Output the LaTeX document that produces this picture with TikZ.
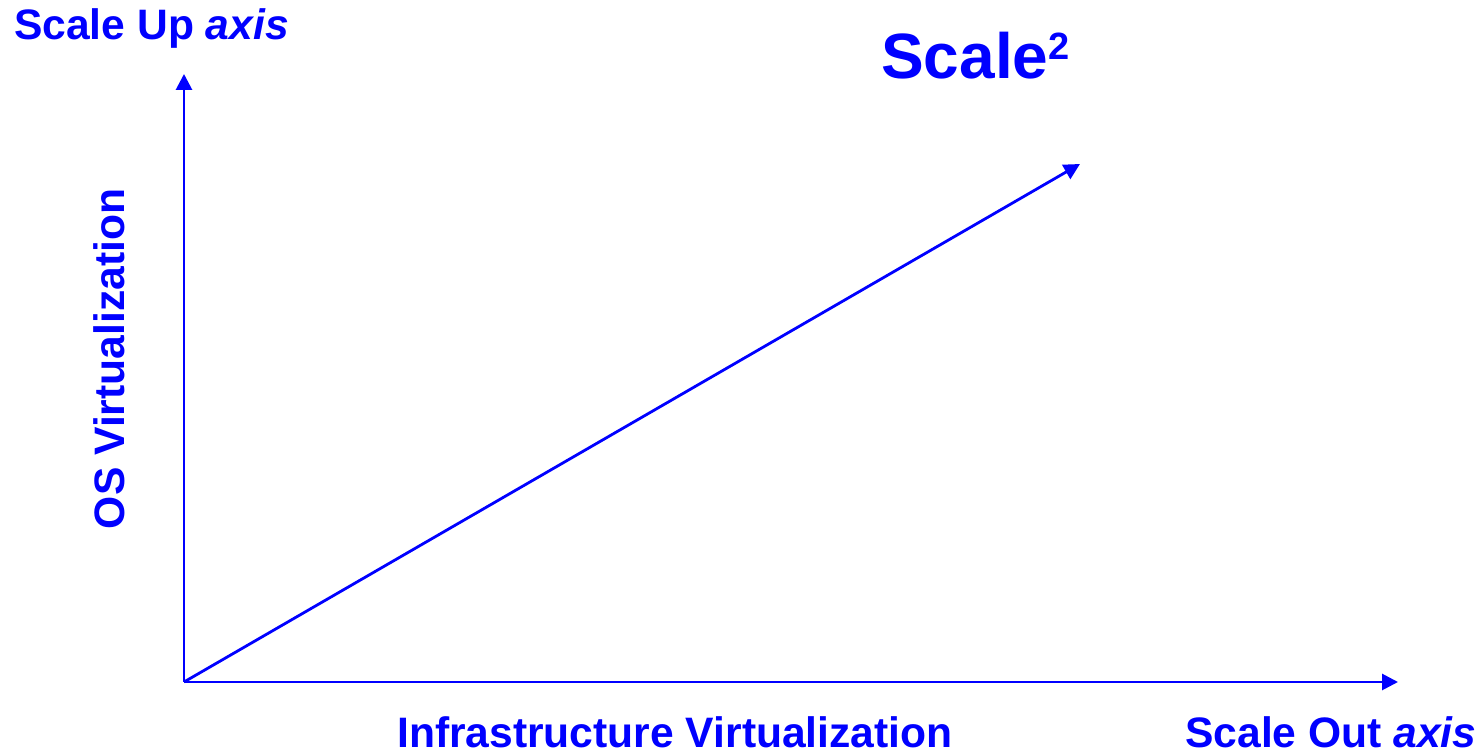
\documentclass[tikz,border=0pt]{standalone}
\usepackage{fontspec}
\setmainfont{Liberation Sans}
\usetikzlibrary{arrows.meta}
\definecolor{axblue}{RGB}{0,0,255}
\begin{document}
\begin{tikzpicture}[x=1pt,y=1pt,
  axisline/.style={draw=axblue,line width=2.8pt,-{Triangle[length=16pt,width=16pt]}},
  lbl/.style={text=axblue,font=\fontsize{42.6}{48}\selectfont\bfseries,inner sep=0pt,anchor=base west}]
\useasboundingbox (0,0) rectangle (1482,754);
\coordinate (O) at (184,72);
\coordinate (Ytop) at (184,680);
\coordinate (Xend) at (1398,72);
\coordinate (Dend) at (1080,590);
\draw[axisline] (O) -- (Ytop);
\draw[axisline] (O) -- (Xend);
\draw[axisline] (O) -- (Dend);
\node[lbl] (su) at (14,714) {Scale Up \textit{axis}};
\node[lbl,font=\fontsize{64}{72}\selectfont\bfseries] (sq) at (881,675) {Scale\raisebox{19pt}{\fontsize{38}{40}\selectfont\bfseries 2}};
\node[lbl,anchor=base,rotate=90] (os) at (124,395) {OS Virtualization};
\node[lbl] (iv) at (397,6) {Infrastructure Virtualization};
\node[lbl] (so) at (1185,6) {Scale Out \textit{axis}};
\end{tikzpicture}
\end{document}
